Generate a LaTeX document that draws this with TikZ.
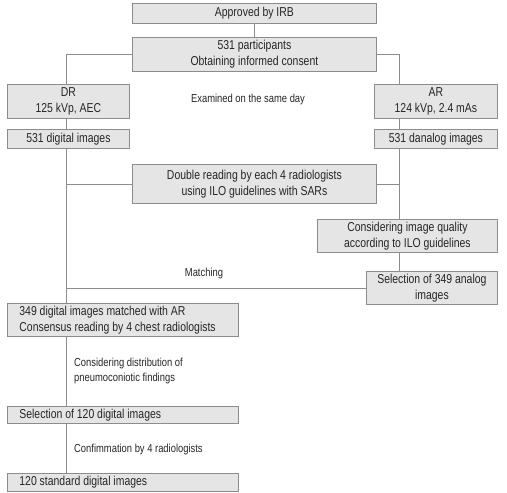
\documentclass[tikz,border=0pt]{standalone}
\usepackage{fontspec}
\setmainfont{Liberation Sans}[FakeStretch=0.81]
\usepackage{tikz}

\begin{document}
\begin{tikzpicture}[
    x=1pt, y=-1pt,
    every node/.style={text=black!85},
    stepbox/.style={draw=black!45, fill=black!10, line width=0.8pt, rectangle,
        anchor=north west, inner sep=0pt, align=center,
        font=\fontsize{12.9}{16}\selectfont},
    leftbox/.style={stepbox, align=flush left, inner xsep=12pt},
    note/.style={font=\fontsize{11.6}{15}\selectfont, inner sep=0pt},
    link/.style={draw=black!45, line width=0.8pt}
]
    \useasboundingbox (0,0) rectangle (507,493);

    % ==========================
    % TOP: approval and the two arms
    % ==========================
    \node[stepbox, minimum width=244pt, minimum height=20pt] (irb) at (132,3) {Approved by IRB};
    \node[stepbox, minimum width=244pt, minimum height=34pt] (part) at (132,37) {531 participants\\Obtaining informed consent};
    \node[stepbox, minimum width=122pt, minimum height=34pt] (dr) at (7,84) {DR\\125 kVp, AEC};
    \node[stepbox, minimum width=123pt, minimum height=34pt] (ar) at (374,84) {AR\\124 kVp, 2.4 mAs};
    \node[stepbox, minimum width=122pt, minimum height=19pt] (dig) at (7,129) {531 digital images};
    \node[stepbox, minimum width=123pt, minimum height=19pt] (ana) at (374,129) {531 danalog images};
    \node[note] (same) at (248,99) {Examined on the same day};

    % spines of the two arms
    \coordinate (lx) at (66,0);
    \coordinate (rx) at (399,0);

    % ==========================
    % MIDDLE: reading and selection
    % ==========================
    \node[stepbox, minimum width=244pt, minimum height=39pt] (dbl) at (132,164) {Double reading by each 4 radiologists\\using ILO guidelines with SARs};
    \node[stepbox, minimum width=180pt, minimum height=33pt] (qual) at (317,219) {Considering image quality\\according to ILO guidelines};
    \node[stepbox, minimum width=131pt, minimum height=33pt] (sel349) at (366,271) {Selection of 349 analog\\images};
    \node[note] (matching) at (204,273) {Matching};

    % ==========================
    % BOTTOM: standard images
    % ==========================
    \node[leftbox, minimum width=231pt, minimum height=33pt, text width=207pt] (matched) at (7,303) {349 digital images matched with AR\\Consensus reading by 4 chest radiologists};
    \node[leftbox, minimum width=231pt, minimum height=17pt, text width=207pt] (sel120) at (7,406) {Selection of 120 digital images};
    \node[leftbox, minimum width=231pt, minimum height=18pt, text width=207pt] (std) at (7,473) {120 standard digital images};
    \node[note, anchor=west, align=left] (distr) at (74,370.5) {Considering distribution of\\pneumoconiotic findings};
    \node[note, anchor=west] (confirm) at (74,449) {Confimmation by 4 radiologists};

    % connectors
    \draw[link] (irb.south) -- (part.north);
    \draw[link] (part.west) -| (dr.north -| lx);
    \draw[link] (part.east) -| (ar.north -| rx);
    \draw[link] (dr.south -| lx) -- (dig.north -| lx);
    \draw[link] (ar.south -| rx) -- (ana.north -| rx);
    \draw[link] (dig.south -| lx) -- (matched.north -| lx);
    \draw[link] (ana.south -| rx) -- (qual.north -| rx);
    \draw[link] (dbl.west) -- (dbl.west -| lx);
    \draw[link] (dbl.east) -- (dbl.east -| rx);
    \draw[link] (qual.south -| rx) -- (sel349.north -| rx);
    \draw[link] (sel349.west) -- (sel349.west -| lx);
    \draw[link] (matched.south -| lx) -- (sel120.north -| lx);
    \draw[link] (sel120.south -| lx) -- (std.north -| lx);

\end{tikzpicture}
\end{document}
